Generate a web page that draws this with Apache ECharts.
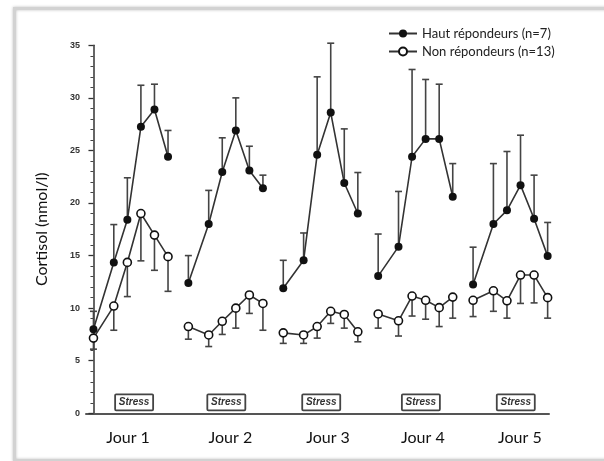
<!DOCTYPE html>
<html><head><meta charset="utf-8">
<script src="https://cdn.jsdelivr.net/npm/echarts@6/dist/echarts.min.js"></script>
<style>html,body{margin:0;padding:0;background:#fff}#c{width:604px;height:461px}</style>
</head><body><div id="c"></div>
<script>
// ---- data ----
const days = ['Jour 1', 'Jour 2', 'Jour 3', 'Jour 4', 'Jour 5'];
const timeOffsets = [0, 3, 5, 7, 9, 11];     // sampling points within a day (x units)
const daySpacing = 14;                         // x units between days
const dayLabelX = [5.1, 20.2, 34.6, 48.6, 62.9];
const stressX = [6.0, 19.6, 33.6, 48.3, 62.3];
const seriesNames = ['Haut répondeurs (n=7)', 'Non répondeurs (n=13)'];
const hautMean = [
  [8.0, 14.35, 18.4, 27.25, 28.9, 24.4],
  [12.4, 18.0, 22.95, 26.9, 23.1, 21.4],
  [11.9, 14.55, 24.6, 28.6, 21.9, 19.0],
  [13.05, 15.85, 24.4, 26.1, 26.1, 20.6],
  [12.25, 18.0, 19.3, 21.7, 18.5, 14.95]
];
const hautUpper = [
  [9.7, 17.95, 22.4, 31.2, 31.3, 26.9],
  [15.0, 21.2, 26.2, 30.0, 25.4, 22.65],
  [14.55, 17.15, 32.0, 35.2, 27.05, 22.9],
  [17.05, 21.1, 32.7, 31.75, 31.3, 23.75],
  [15.8, 23.75, 24.9, 26.45, 22.65, 18.15]
];
const nonMean = [
  [7.15, 10.2, 14.35, 19.0, 16.95, 14.9],
  [8.25, 7.45, 8.75, 10.0, 11.25, 10.45],
  [7.65, 7.45, 8.25, 9.7, 9.4, 7.75],
  [9.45, 8.8, 11.15, 10.75, 10.05, 11.05],
  [10.75, 11.65, 10.7, 13.15, 13.15, 11.0]
];
const nonLower = [
  [6.1, 7.9, 11.1, 14.5, 13.6, 11.6],
  [7.05, 6.35, 7.5, 8.1, 9.5, 7.9],
  [6.65, 6.65, 7.15, 8.55, 8.1, 6.8],
  [8.1, 7.35, 9.25, 8.95, 8.25, 9.05],
  [9.2, 9.7, 9.05, 10.45, 10.5, 9.05]
];
const yMin = 0, yMax = 35, yStep = 5;
const stressLabel = 'Stress';

// ---- build ----
const dark = '#333';
function xOf(d, i) { return d * daySpacing + timeOffsets[i]; }

const series = [];
function errSeries(means, ends, capUp) {
  const data = [];
  means.forEach((row, d) => row.forEach((v, i) => data.push([xOf(d, i), v, ends[d][i]])));
  return {
    type: 'custom', silent: true, z: 2,
    encode: { x: 0, y: [1, 2] },
    renderItem: function (params, api) {
      const p0 = api.coord([api.value(0), api.value(1)]);
      const p1 = api.coord([api.value(0), api.value(2)]);
      return {
        type: 'group', children: [
          { type: 'line', shape: { x1: p0[0], y1: p0[1], x2: p1[0], y2: p1[1] }, style: { stroke: '#444', lineWidth: 1.6 } },
          { type: 'line', shape: { x1: p1[0] - 3.5, y1: p1[1], x2: p1[0] + 3.5, y2: p1[1] }, style: { stroke: '#444', lineWidth: 1.6 } }
        ]
      };
    },
    data: data
  };
}
series.push(errSeries(hautMean, hautUpper));
series.push(errSeries(nonMean, nonLower));

function lineSeries(name, means, filled) {
  means.forEach((row, d) => {
    series.push({
      name: name, type: 'line', z: 3,
      symbol: 'circle', symbolSize: 8,
      lineStyle: { color: dark, width: 1.6 },
      itemStyle: { color: filled ? '#111' : '#fff', borderColor: '#111', borderWidth: filled ? 0 : 1.6 },
      data: row.map((v, i) => [xOf(d, i), v])
    });
  });
}
lineSeries(seriesNames[0], hautMean, true);
lineSeries(seriesNames[1], nonMean, false);

// stress boxes
series.push({
  type: 'custom', silent: true, z: 4,
  data: stressX.map(x => [x, 0]),
  renderItem: function (params, api) {
    const p = api.coord([api.value(0), api.value(1)]);
    return {
      type: 'group', children: [
        { type: 'rect', shape: { x: p[0] - 19, y: p[1] - 19, width: 38, height: 16, r: 1 }, style: { fill: '#fff', stroke: '#444', lineWidth: 1.8 } },
        { type: 'text', style: { x: p[0], y: p[1] - 11, text: stressLabel, align: 'center', verticalAlign: 'middle', font: 'italic bold 10px "Liberation Sans", Arial, sans-serif', fill: '#333' } }
      ]
    };
  }
});
// day labels
series.push({
  type: 'custom', silent: true, z: 4,
  data: dayLabelX.map(x => [x, 0]),
  renderItem: function (params, api) {
    const p = api.coord([api.value(0), api.value(1)]);
    return { type: 'text', style: { x: p[0], y: p[1] + 25, text: days[params.dataIndex], align: 'center', verticalAlign: 'middle', font: '16px Lato, sans-serif', fill: '#111' } };
  }
});

const chart = echarts.init(document.getElementById('c'), null, { renderer: 'canvas' });
chart.setOption({
  animation: false,
  backgroundColor: '#fff',
  graphic: [{
    type: 'rect', z: -10, left: 13, top: 7,
    shape: { width: 610, height: 452 },
    style: { fill: '#fff', stroke: '#d2d2d2', lineWidth: 3, shadowBlur: 3, shadowColor: 'rgba(0,0,0,0.25)' }
  }],
  legend: {
    orient: 'vertical', left: 383, top: 22, itemGap: 5,
    itemWidth: 28, itemHeight: 10,
    textStyle: { fontFamily: 'Lato', fontSize: 13, color: '#222' },
    data: seriesNames
  },
  grid: { left: 86, right: 55, top: 45.3, bottom: 47.7 },
  xAxis: {
    type: 'value', min: -1.1, max: 67.2,
    axisLine: { show: true, onZero: false, lineStyle: { color: '#555', width: 2 } },
    axisTick: { show: false }, axisLabel: { show: false }, splitLine: { show: false }
  },
  yAxis: {
    type: 'value', min: yMin, max: yMax, interval: yStep,
    name: 'Cortisol (nmol/l)', nameLocation: 'middle', nameGap: 36,
    nameTextStyle: { fontFamily: 'Lato', fontSize: 16, color: '#111' },
    axisLine: { show: true, lineStyle: { color: '#333', width: 1.5 } },
    axisTick: { show: true, length: 5, lineStyle: { color: '#333', width: 1.3 } },
    minorTick: { show: true, splitNumber: 5, length: 3, lineStyle: { color: '#444', width: 1 } },
    axisLabel: { margin: 6, fontFamily: 'Liberation Sans', fontSize: 9, fontWeight: 'bold', color: '#333' },
    splitLine: { show: false }
  },
  series: series
});
</script></body></html>
